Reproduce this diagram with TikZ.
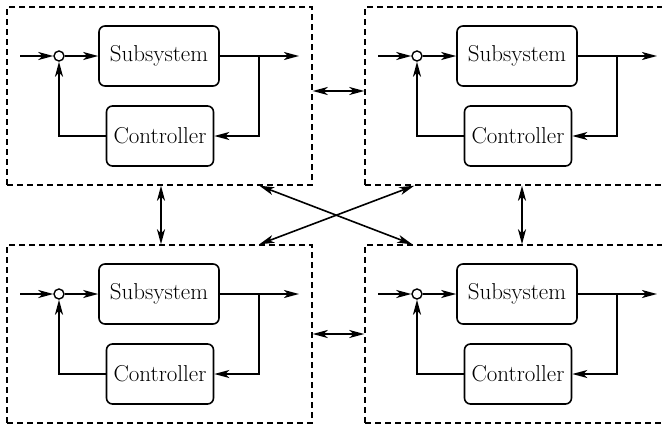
\documentclass[tikz,border=0pt]{standalone}
\usetikzlibrary{arrows.meta}
\tikzset{
  sig/.style={line width=1.6pt, -{Stealth[length=15pt,width=8pt,inset=4pt]}},
  link/.style={line width=1.6pt, {Stealth[length=15pt,width=8pt,inset=4pt]}-{Stealth[length=15pt,width=8pt,inset=4pt]}},
  blockbox/.style={draw, line width=1.6pt, rounded corners=6pt, minimum height=60pt, inner sep=0pt,
    font=\fontsize{23}{26}\selectfont},
  groupbox/.style={draw, line width=1.4pt, dash pattern=on 6pt off 4pt, minimum width=305pt,
    minimum height=178pt, inner sep=0pt},
  sumpt/.style={draw, circle, line width=1.4pt, minimum size=10pt, inner sep=0pt, fill=white}
}
\begin{document}
\begin{tikzpicture}[x=1pt, y=-1pt, line cap=butt, line join=miter]
  \useasboundingbox (0,0) rectangle (662,426);
  % four controlled subsystems
  \foreach \bx/\by/\n in {7/7/1, 365/7/2, 7/245/3, 365/245/4} {
    \begin{scope}[shift={(\bx,\by)}]
      \node[groupbox] (box\n) at (152.5,89) {};
      \node[blockbox, minimum width=120pt] (sub\n) at (152,49) {Subsystem};
      \node[blockbox, minimum width=107pt] (ctrl\n) at (153,129) {Controller};
      \node[sumpt] (sum\n) at (52,49) {};
      \coordinate (in\n) at (13,49);
      \coordinate (out\n) at (292,49);
      \coordinate (br\n) at (252,49);
      \draw[sig] (in\n) -- (sum\n);
      \draw[sig] (sum\n) -- (sub\n);
      \draw[sig] (sub\n) -- (out\n);
      \draw[sig] (br\n) |- (ctrl\n.east);
      \draw[sig] (ctrl\n.west) -| (sum\n);
    \end{scope}
  }
  % links between the groups
  \draw[link] ([yshift=5pt]box1.east) -- ([yshift=5pt]box2.west);
  \draw[link] (box3.east) -- (box4.west);
  \draw[link] ([xshift=1.5pt]box1.south) -- ([xshift=1.5pt]box3.north);
  \draw[link] ([xshift=4.5pt]box2.south) -- ([xshift=4.5pt]box4.north);
  \draw[link] ([xshift=253pt]box1.south west) -- ([xshift=48pt]box4.north west);
  \draw[link] ([xshift=253pt]box3.north west) -- ([xshift=50pt]box2.south west);
\end{tikzpicture}
\end{document}
